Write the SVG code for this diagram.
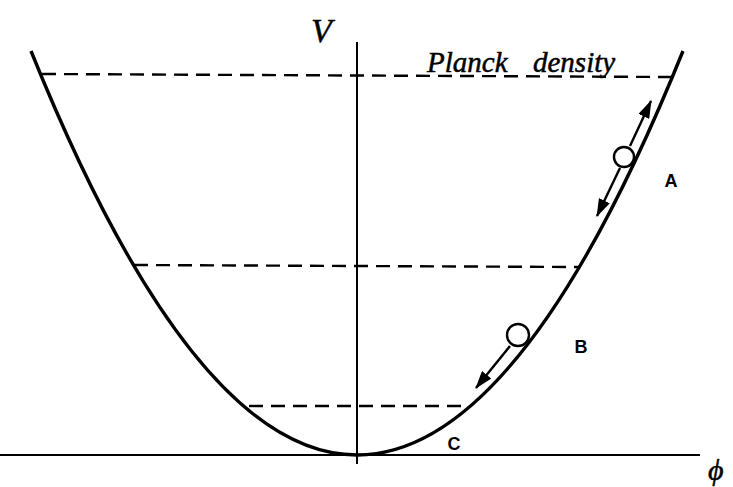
<svg xmlns="http://www.w3.org/2000/svg" width="733" height="487" viewBox="0 0 733 487">
<style>
.axis{stroke:#000;stroke-width:2;fill:none}
.curve{stroke:#000;stroke-width:3.4;fill:none}
.dash{stroke:#000;stroke-width:2.4;stroke-dasharray:14 8;fill:none}
.arrow{stroke:#000;stroke-width:2.4;fill:none;marker-end:url(#ah)}
.ball{fill:#fff;stroke:#000;stroke-width:2.4}
.lbl{font-family:"Liberation Sans",Arial,sans-serif;font-weight:bold;font-size:18px;fill:#000;text-anchor:middle}
.math{font-family:"Liberation Serif","Times New Roman",serif;font-style:italic;fill:#000;stroke:#000;stroke-width:0.5}
</style>
<defs>
<marker id="ah" markerUnits="userSpaceOnUse" markerWidth="18" markerHeight="12" refX="17" refY="6" orient="auto">
<path d="M0,0 L18,6 L0,12 z" fill="#000"/>
</marker>
</defs>
<rect width="733" height="487" fill="#fff"/>
<g id="axes">
<line class="axis" x1="0" y1="455" x2="700" y2="455"/>
<line class="axis" x1="357" y1="42" x2="357" y2="464"/>
</g>
<g id="levels">
<line class="dash" x1="42" y1="74" x2="672" y2="77"/>
<line class="dash" x1="134" y1="265" x2="580" y2="267"/>
<line class="dash" x1="249" y1="406" x2="469" y2="406"/>
</g>
<g id="potential">
<path class="curve" d="M31,51 Q357,859 683,51"/>
</g>
<g id="connectors">
<line class="arrow" x1="630" y1="146" x2="651" y2="101"/>
<line class="arrow" x1="620" y1="168" x2="597" y2="216"/>
<line class="arrow" x1="510" y1="346" x2="476" y2="388"/>
</g>
<g id="ballA"><circle class="ball" cx="624" cy="157" r="10"/></g>
<g id="ballB"><circle class="ball" cx="518" cy="335" r="11"/></g>
<g id="labels">
<text class="lbl" x="671" y="187">A</text>
<text class="lbl" x="581" y="353">B</text>
<text class="lbl" x="454" y="450">C</text>
<text class="math" x="311" y="42" font-size="34">V</text>
<text class="math" font-size="29" y="72"><tspan x="427">Planck</tspan><tspan x="533">density</tspan></text>
<text class="math" x="708" y="480" font-size="30">ϕ</text>
</g>
</svg>
